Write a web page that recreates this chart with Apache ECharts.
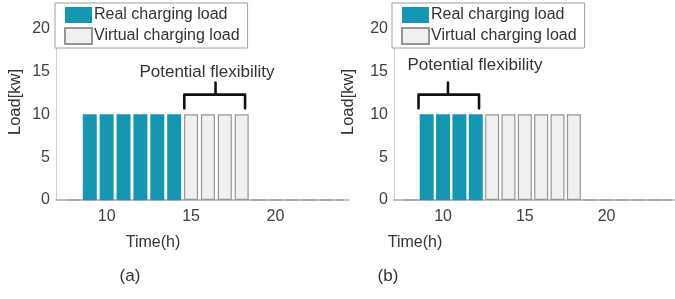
<!DOCTYPE html>
<html><head><meta charset="utf-8">
<script src="https://cdn.jsdelivr.net/npm/echarts@6/dist/echarts.min.js"></script>
<style>html,body{margin:0;background:#fff}#c{width:675px;height:299px}</style>
</head><body><div id="c"></div>
<script>
const hours = [8,9,10,11,12,13,14,15,16,17,18,19,20,21,22,23,24];
const realA    = [0,10,10,10,10,10,10,0,0,0,0,0,0,0,0,0,0];
const virtualA = [0,0,0,0,0,0,0,10,10,10,10,0,0,0,0,0,0];
const realB    = [0,10,10,10,10,0,0,0,0,0,0,0,0,0,0,0,0];
const virtualB = [0,0,0,0,0,10,10,10,10,10,10,0,0,0,0,0,0];
const xTickLabels = [10,15,20];
const yTickLabels = [0,5,10,15,20];
const seriesNames = ['Real charging load','Virtual charging load'];
const bracketA = {x1:14.6, x2:18.2, xm:16.45, yTip:10.7, yBar:12.3, yTop:13.7};
const bracketB = {x1:8.5, x2:12.2, xm:10.3, yTip:10.7, yBar:12.3, yTop:13.7};

const FONT = '"Liberation Sans", Arial, sans-serif';
const BLUE = '#1596b3';
const pair = (vals) => hours.map((h,i)=>[h, vals[i]]);
const bracketPts = b => [[b.x1,b.yTip],[b.x1,b.yBar],[b.xm,b.yBar],[b.xm,b.yTop],[b.xm,b.yBar],[b.x2,b.yBar],[b.x2,b.yTip]];

const grids = [
  {left:56, top:3, width:287, height:197},
  {left:394, top:3, width:287, height:197}
];
const xAxes = grids.map((g,i)=>({
  type:'value', gridIndex:i, min:7, max:24, interval:1,
  axisLine:{show:true, lineStyle:{color:'#a8a8a8', width:1.5}},
  axisTick:{show:false}, splitLine:{show:false},
  axisLabel:{margin:9, fontSize:16, color:'#404040', fontFamily:FONT,
    formatter:v=> xTickLabels.includes(v) ? String(v) : ''}
}));
const yAxes = grids.map((g,i)=>({
  type:'value', gridIndex:i, min:0, max:23, interval:5,
  axisLine:{show:true, lineStyle:{color:'#d0d0d0', width:1}},
  axisTick:{show:false}, splitLine:{show:false},
  axisLabel:{margin:6, fontSize:16, color:'#404040', fontFamily:FONT,
    formatter:v=> yTickLabels.includes(v) ? String(v) : ''}
}));
function bars(idx, real, virt){
  return [
    {name:seriesNames[1], type:'bar', xAxisIndex:idx, yAxisIndex:idx, data:pair(virt),
     barWidth:14, barGap:'-100%', z:2,
     itemStyle:{color:'#f0f0f0', borderColor:'#969696', borderWidth:1.2}},
    {name:seriesNames[0], type:'bar', xAxisIndex:idx, yAxisIndex:idx, data:pair(real),
     barWidth:14, barGap:'-100%', z:3,
     itemStyle:{color:BLUE}}
  ];
}
function bracket(idx, b){
  return {type:'line', xAxisIndex:idx, yAxisIndex:idx, data:bracketPts(b), symbol:'none', z:5,
    lineStyle:{color:'#111', width:2.6, cap:'round', join:'round'}, silent:true};
}
const legendCommon = {
  orient:'vertical', top:3, itemWidth:27, itemHeight:16, itemGap:4,
  padding:[4,8,3,9], backgroundColor:'#fff', borderColor:'#a0a0a0', borderWidth:1,
  selectedMode:false, icon:'rect',
  textStyle:{fontSize:16, color:'#333', fontFamily:FONT, padding:[0,0,0,-3]},
  data:seriesNames
};
const txt = (x,y,t,size,extra)=>Object.assign({type:'text', x, y,
  style:{text:t, font:`${size}px ${FONT}`, fill:'#333', align:'center', verticalAlign:'middle'}}, extra||{});

const chart = echarts.init(document.getElementById('c'), null, {renderer:'canvas'});
chart.setOption({
  animation:false,
  grid:grids, xAxis:xAxes, yAxis:yAxes,
  legend:[Object.assign({left:55}, legendCommon), Object.assign({left:392}, legendCommon)],
  series:[...bars(0, realA, virtualA), ...bars(1, realB, virtualB), bracket(0, bracketA), bracket(1, bracketB)],
  graphic:[
    txt(207,72,'Potential flexibility',17),
    txt(475,65,'Potential flexibility',17),
    txt(153,243,'Time(h)',16),
    txt(415,243,'Time(h)',16),
    txt(130,276,'(a)',17),
    txt(388,276,'(b)',17),
    txt(15,102,'Load[kw]',16.5,{rotation:Math.PI/2}),
    txt(348,102,'Load[kw]',16.5,{rotation:Math.PI/2})
  ]
});
</script></body></html>
